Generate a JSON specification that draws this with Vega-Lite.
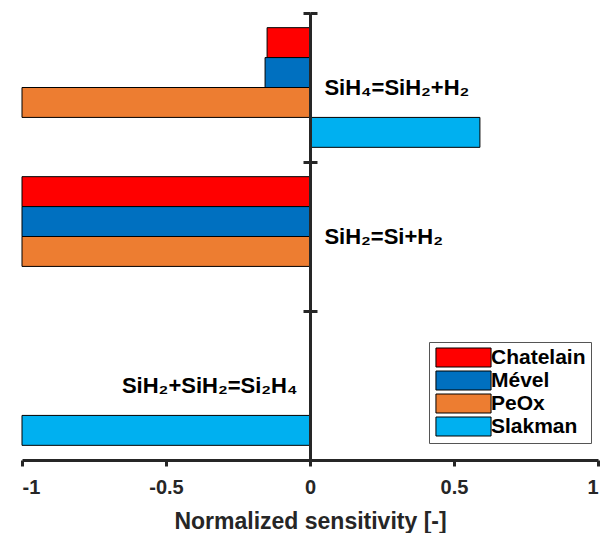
{
  "$schema": "https://vega.github.io/schema/vega-lite/v6.json",
  "width": 576,
  "height": 447,
  "autosize": {"type": "none"},
  "padding": {"left": 22, "top": 13, "right": 6, "bottom": 73},
  "config": {"view": {"stroke": null}, "font": "Liberation Sans"},
  "datasets": {
    "bars": [
      {"reaction": "R1", "model": "Chatelain", "value": -0.149},
      {"reaction": "R1", "model": "Mével", "value": -0.156},
      {"reaction": "R1", "model": "PeOx", "value": -1},
      {"reaction": "R1", "model": "Slakman", "value": 0.59},
      {"reaction": "R2", "model": "Chatelain", "value": -1},
      {"reaction": "R2", "model": "Mével", "value": -1},
      {"reaction": "R2", "model": "PeOx", "value": -1},
      {"reaction": "R3", "model": "Slakman", "value": -1}
    ],
    "labels": [
      {"reaction": "R1", "label": "SiH₄=SiH₂+H₂", "x": 0.05},
      {"reaction": "R2", "label": "SiH₂=Si+H₂", "x": 0.05},
      {"reaction": "R3", "label": "SiH₂+SiH₂=Si₂H₄", "x": -0.653}
    ]
  },
  "layer": [
    {
      "data": {"name": "bars"},
      "mark": {"type": "bar", "stroke": "black", "strokeWidth": 1},
      "encoding": {
        "y": {
          "field": "reaction",
          "type": "nominal",
          "scale": {"domain": ["R1", "R2", "R3"], "paddingInner": 0, "paddingOuter": 0},
          "axis": {
            "orient": "left", "offset": -288, "labels": false, "title": null,
            "domainColor": "#262626", "domainWidth": 3, "tickColor": "#262626",
            "tickWidth": 3, "tickSize": 7, "bandPosition": 0, "zindex": 2
          }
        },
        "yOffset": {
          "field": "model",
          "type": "nominal",
          "scale": {"domain": ["Chatelain", "Mével", "PeOx", "Slakman"], "paddingInner": 0, "paddingOuter": 0.49}
        },
        "x": {
          "field": "value",
          "type": "quantitative",
          "scale": {"domain": [-1, 1], "nice": false, "zero": false},
          "axis": {
            "values": [-1, -0.5, 0, 0.5, 1],
            "labelExpr": "datum.value + ''",
            "grid": false,
            "title": "Normalized sensitivity [-]",
            "titleFontSize": 23,
            "titleFontWeight": "bold",
            "titleColor": "#262626",
            "titlePadding": 13,
            "labelFontSize": 20,
            "labelFontWeight": "bold",
            "labelColor": "#262626",
            "labelPadding": 11,
            "domainColor": "#262626",
            "domainWidth": 3,
            "tickColor": "#262626",
            "tickWidth": 3,
            "tickSize": 6,
            "zindex": 2
          }
        },
        "x2": {"datum": 0},
        "color": {
          "field": "model",
          "type": "nominal",
          "scale": {"domain": ["Chatelain", "Mével", "PeOx", "Slakman"], "range": ["#FF0000", "#0070C0", "#ED7D31", "#00B0F0"]},
          "legend": {
            "orient": "none",
            "legendX": 407,
            "legendY": 329,
            "title": null,
            "strokeColor": "#555555",
            "fillColor": "white",
            "padding": 5,
            "symbolType": "M-2.9,-1H2.9V1H-2.9Z",
            "symbolSize": 361,
            "symbolStrokeColor": "black",
            "symbolStrokeWidth": 1,
            "symbolOpacity": 1,
            "symbolOffset": 19,
            "labelOffset": 17,
            "labelFontSize": 21,
            "labelFontWeight": "bold",
            "labelColor": "black",
            "rowPadding": 0
          }
        }
      }
    },
    {
      "data": {"name": "labels"},
      "mark": {"type": "text", "align": "left", "baseline": "middle", "fontSize": 22, "fontWeight": "bold", "color": "black"},
      "encoding": {
        "y": {
          "field": "reaction",
          "type": "nominal",
          "axis": {
            "orient": "right", "offset": -288, "labels": false, "title": null,
            "domainColor": "#262626", "domainWidth": 3, "tickColor": "#262626",
            "tickWidth": 3, "tickSize": 7, "bandPosition": 0, "zindex": 2
          }
        },
        "x": {"field": "x", "type": "quantitative"},
        "text": {"field": "label"}
      }
    }
  ],
  "resolve": {"axis": {"y": "independent"}}
}
